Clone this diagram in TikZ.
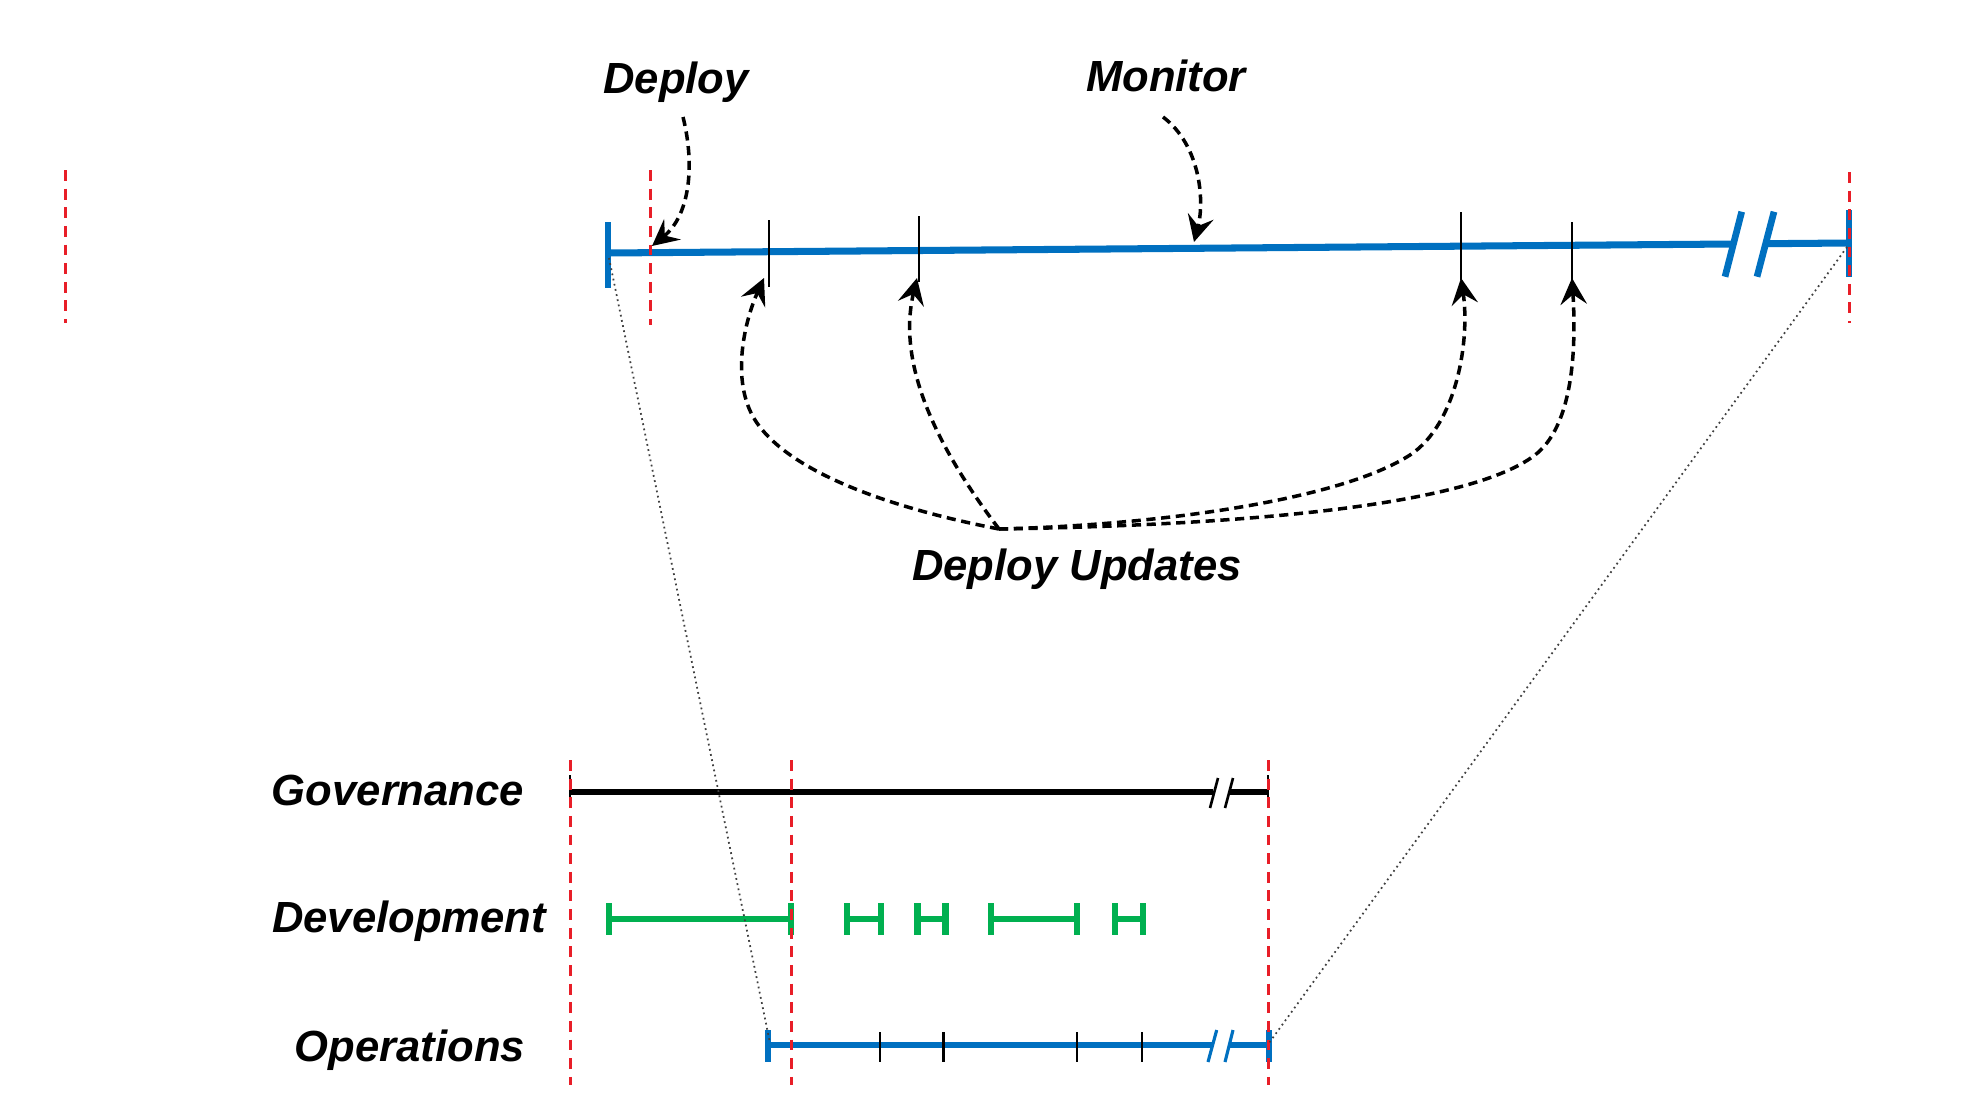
\documentclass[tikz,border=0pt]{standalone}
\usepackage{fontspec}
\setmainfont{Liberation Sans}
\usetikzlibrary{arrows.meta}
\definecolor{tlblue}{RGB}{0,112,192}
\definecolor{tlgreen}{RGB}{0,176,80}
\definecolor{tlred}{RGB}{232,30,40}
\begin{document}
\begin{tikzpicture}[x=0.01cm,y=-0.01cm,
  lbl/.style={font=\fontsize{12.4}{15}\selectfont\bfseries\itshape, inner sep=0pt, anchor=base},
  marker/.style={tlred, line width=0.85pt, dash pattern=on 3.1pt off 2.2pt},
  bluebar/.style={tlblue, line width=2pt},
  bluetick/.style={tlblue, line width=1.9pt},
  blacktick/.style={black, line width=0.65pt},
  govbar/.style={black, line width=1.7pt},
  govtick/.style={black, line width=0.75pt},
  devbar/.style={tlgreen, line width=1.8pt},
  opsbar/.style={tlblue, line width=1.7pt},
  opsslash/.style={tlblue, line width=0.9pt},
  zoomline/.style={black!75, line width=0.5pt, densely dotted},
  callout/.style={black, line width=1pt, dash pattern=on 2.6pt off 1.6pt,
    -{Stealth[length=7.5pt, width=7.5pt, inset=2.8pt]}},
]
\useasboundingbox (0,0) rectangle (1970,1118);

% ---------- top (zoomed) timeline ----------
\coordinate (tl) at (608,253);
\coordinate (tr) at (1849,243);
\draw[bluebar] (tl) -- (1733,244);
\draw[bluebar] (1766,243.7) -- (tr);
\draw[bluetick] (608,222) -- (608,288);
\draw[bluetick] (1849,210) -- (1849,277);
\draw[bluetick] (1741.7,211.7) -- (1725,276.7);
\draw[bluetick] (1774,211.7) -- (1757,276.7);

\coordinate (k1) at (769,287);
\coordinate (k2) at (919,282);
\coordinate (k3) at (1461,280);
\coordinate (k4) at (1572,280);
\draw[blacktick] (769,220) -- (k1);
\draw[blacktick] (919,216) -- (k2);
\draw[blacktick] (1461,212) -- (k3);
\draw[blacktick] (1572,222) -- (k4);

% labels
\node[lbl] (deploy) at (676,93) {Deploy};
\node[lbl] (monitor) at (1166,91) {Monitor};
\node[lbl] (updates) at (1077,580) {Deploy Updates};

\coordinate (dstart) at (683,117);
\coordinate (dtip) at (652,246);
\coordinate (mstart) at (1163,117);
\coordinate (mtip) at (1194,242);
\draw[callout] (dstart) .. controls (695,165) and (690,215) .. (dtip);
\draw[callout] (mstart) .. controls (1200,145) and (1205,200) .. (mtip);

\coordinate (hub) at (999,529);
\coordinate (a1) at (764,278);
\coordinate (a2) at (917,278);
\coordinate (a3) at (1461,278);
\coordinate (a4) at (1572,278);
\draw[callout] (hub) .. controls (900,510) and (790,475) .. (755,420)
   .. controls (730,380) and (745,320) .. (a1);
\draw[callout] (hub) .. controls (920,425) and (900,350) .. (a2);
\draw[callout] (hub) .. controls (1160,525) and (1340,500) .. (1410,455)
   .. controls (1457,424) and (1470,340) .. (a3);
\draw[callout] (hub) .. controls (1250,525) and (1470,505) .. (1535,455)
   .. controls (1570,428) and (1577,360) .. (a4);

% ---------- bottom overview ----------
\node[lbl] (gov) at (398,805) {Governance};
\node[lbl] (dev) at (409,932) {Development};
\node[lbl] (ops) at (410,1061) {Operations};

% governance
\draw[govbar] (570,791.7) -- (1213,791.7);
\draw[govbar] (1229,791.7) -- (1268,791.7);
\draw[govtick] (570,775) -- (570,807);
\draw[govtick] (1268,775) -- (1268,807);
\draw[govtick] (1218,778) -- (1210,808);
\draw[govtick] (1233,778) -- (1225,808);

% development
\foreach \a/\b in {609/791, 847/881, 917.5/945.5, 991/1077, 1115/1143}{
  \draw[devbar] (\a,919) -- (\b,919);
  \draw[devbar] (\a,903) -- (\a,935);
  \draw[devbar] (\b,903) -- (\b,935);
}

% operations
\coordinate (os) at (770,1043);
\coordinate (oe) at (1269,1043);
\draw[opsbar] (768,1045) -- (1213,1045);
\draw[opsbar] (1229,1045) -- (1269,1045);
\draw[bluetick] (768,1030) -- (768,1062);
\draw[bluetick] (1269,1030) -- (1269,1062);
\draw[opsslash] (1216.7,1030) -- (1208,1062);
\draw[opsslash] (1233,1030) -- (1225,1062);
\foreach \x in {880, 943.5, 1077, 1142}{
  \draw[blacktick] (\x,1032) -- (\x,1062);
}

% phase markers
\draw[marker] (65.7,170) -- (65.7,323);
\draw[marker] (650.6,170) -- (650.6,325);
\draw[marker] (1849,172) -- (1849,323);
\draw[marker] (570,760) -- (570,1085);
\draw[marker] (791,760) -- (791,1085);
\draw[marker] (1268,760) -- (1268,1085);

% zoom connectors
\draw[zoomline] (609,258) -- (os);
\draw[zoomline] (1847,247) -- (oe);
\end{tikzpicture}
\end{document}
